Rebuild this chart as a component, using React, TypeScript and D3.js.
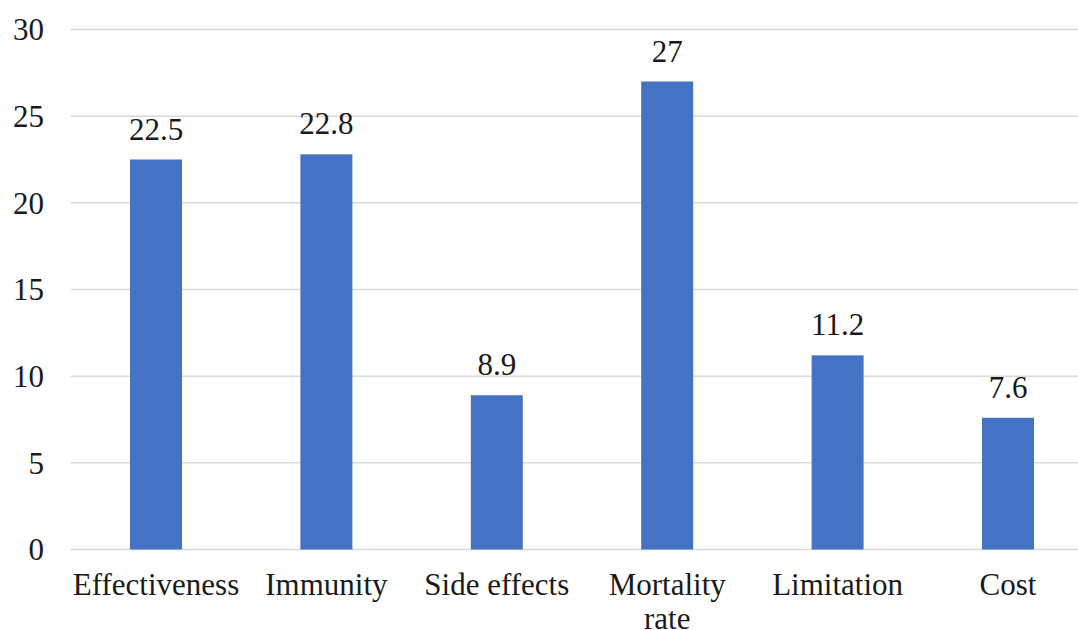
import React from "react";
import * as d3 from "d3";

const categories = ["Effectiveness", "Immunity", "Side effects", "Mortality rate", "Limitation", "Cost"];
const values = [22.5, 22.8, 8.9, 27, 11.2, 7.6];
const yTicks = [0, 5, 10, 15, 20, 25, 30];

const W = 1078;
const H = 630;

export default function App() {
  const x = d3.scaleBand<string>().domain(categories).range([70.8, 1093.2]).paddingInner(0.695).paddingOuter(0.3475);
  const y = d3.scaleLinear().domain([0, 30]).range([549.5, 29.5]);
  const textStyle: React.CSSProperties = {
    fontFamily: "'Liberation Serif', 'Times New Roman', serif",
    fontSize: "31px",
  };
  const textColor = "#1a1a1a";

  const wrap = (c: string) => (c === "Mortality rate" ? ["Mortality", "rate"] : [c]);

  return (
    <svg width={W} height={H} style={{ position: "absolute", left: 0, top: 0, background: "#fff" }}>
      {yTicks.map((t) => (
        <g key={t}>
          <line x1={70.8} x2={W} y1={y(t)} y2={y(t)} stroke="#d9d9d9" strokeWidth={1.5} />
          <text x={44} y={y(t)} dy="0.35em" textAnchor="end" style={textStyle} fill={textColor}>
            {t}
          </text>
        </g>
      ))}
      {categories.map((c, i) => {
        const bx = x(c)!;
        const bw = x.bandwidth();
        const cx = bx + bw / 2;
        return (
          <g key={c}>
            <rect x={bx} y={y(values[i])} width={bw} height={y(0) - y(values[i])} fill="#4472c4" />
            <text x={cx} y={y(values[i]) - 20} textAnchor="middle" style={textStyle} fill={textColor}>
              {values[i]}
            </text>
            {wrap(c).map((line, j) => (
              <text key={j} x={cx} y={595 + j * 34} textAnchor="middle" style={textStyle} fill={textColor}>
                {line}
              </text>
            ))}
          </g>
        );
      })}
    </svg>
  );
}
